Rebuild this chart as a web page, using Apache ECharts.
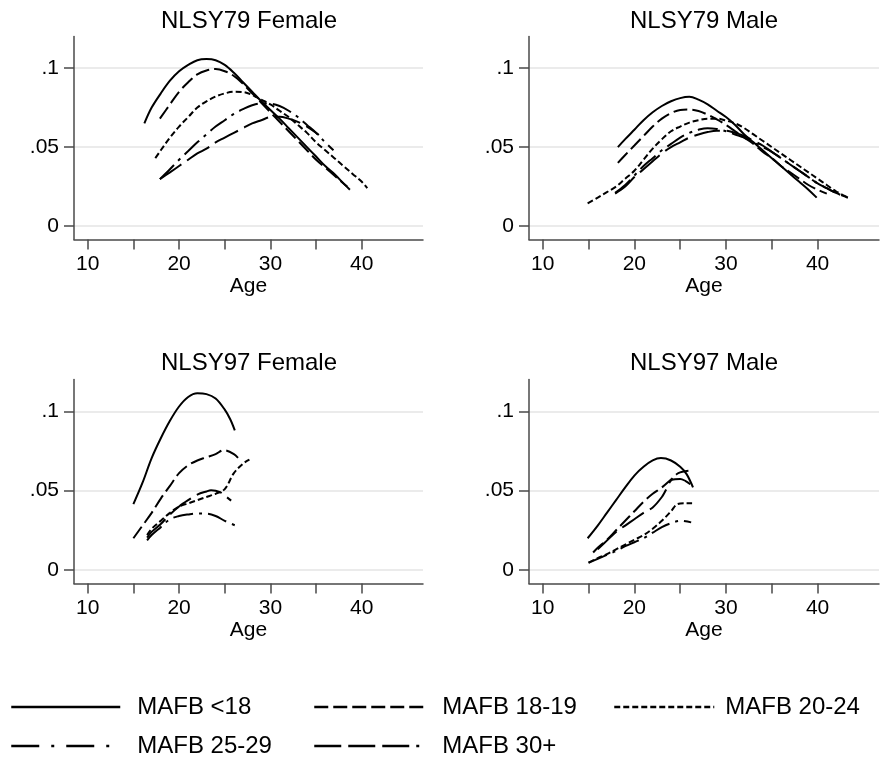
<!DOCTYPE html>
<html><head><meta charset="utf-8">
<script src="https://cdn.jsdelivr.net/npm/echarts@6/dist/echarts.min.js"></script>
<style>html,body{margin:0;padding:0;background:#fff}#c{width:881px;height:761px}</style>
</head><body><div id="c"></div><script>
const panelTitles = ['NLSY79 Female', 'NLSY79 Male', 'NLSY97 Female', 'NLSY97 Male'];
const groups = ['MAFB <18', 'MAFB 18-19', 'MAFB 20-24', 'MAFB 25-29', 'MAFB 30+'];
const xTicks = [10, 15, 20, 25, 30, 35, 40];
const xLabels = [10, 20, 30, 40];
const yTicks = [0, 0.05, 0.1];

// NLSY79 Female
const f79_lt18 = [[16.2,.065],[17,.075],[18,.084],[19,.092],[20,.098],[21,.102],[22,.105],[23,.1057],[24,.105],[25,.102],[26,.097],[27,.091],[28,.085],[29,.079],[30,.0735],[31,.068],[32,.062],[33,.056],[34,.050],[35,.044],[36,.038],[37,.033],[38,.027],[38.7,.023]];
const f79_1819 = [[17.9,.068],[19,.077],[20,.085],[21,.091],[22,.096],[23,.0985],[24,.0994],[25,.098],[26,.095],[27,.090],[28,.084],[29,.078],[30,.072],[31,.066],[32,.060],[33,.054],[34,.048],[35,.042],[36,.037],[37,.032],[38,.027],[38.4,.025]];
const f79_2024 = [[17.4,.043],[18,.048],[19,.056],[20,.063],[21,.069],[22,.075],[23,.079],[24,.082],[25,.084],[26,.085],[27,.0848],[28,.083],[29,.080],[30,.077],[31,.073],[32,.069],[33,.064],[34,.059],[35,.053],[36,.048],[37,.043],[38,.038],[39,.033],[40,.028],[40.6,.024]];
const f79_2529 = [[17.9,.0297],[19,.036],[20,.042],[21,.0475],[22,.053],[23,.058],[24,.063],[25,.067],[26,.071],[27,.074],[28,.0765],[29,.0777],[30,.0775],[31,.076],[32,.073],[33,.069],[34,.064],[35,.059],[36,.053],[36.9,.048]];
const f79_30 = [[17.9,.0297],[19,.034],[20,.038],[21,.042],[22,.046],[23,.049],[24,.053],[25,.056],[26,.059],[27,.062],[28,.065],[29,.067],[30,.069],[31,.0692],[32,.068],[33,.066],[34,.063],[35,.059],[35.3,.0576]];

// NLSY79 Male
const m79_lt18 = [[18.2,.050],[19,.055],[20,.061],[21,.067],[22,.072],[23,.076],[24,.079],[25,.081],[26,.0818],[27,.080],[28,.077],[29,.073],[30,.069],[31,.064],[32,.058],[33,.053],[34,.048],[35,.043],[36,.038],[37,.033],[38,.028],[39,.023],[39.9,.018]];
const m79_1819 = [[18.2,.040],[19,.045],[20,.051],[21,.057],[22,.063],[23,.068],[24,.0715],[25,.0735],[26,.0738],[27,.0728],[28,.0705],[29,.0675],[30,.064],[31,.060],[32,.056],[33,.052],[34,.047],[35,.043],[36,.038],[37,.034],[38,.030],[39,.026],[40,.023],[41,.0205]];
const m79_2024 = [[14.9,.0143],[16,.018],[17,.0215],[18,.025],[19,.030],[20,.035],[21,.042],[22,.049],[23,.055],[24,.060],[25,.063],[26,.0655],[27,.067],[28,.068],[29,.068],[30,.0668],[31,.065],[32,.062],[33,.058],[34,.054],[35,.050],[36,.046],[37,.042],[38,.038],[39,.034],[40,.030],[41,.026],[42,.022],[43,.019],[43.4,.0175]];
const m79_2529 = [[17.9,.021],[19,.026],[20,.032],[21,.038],[22,.043],[23,.048],[24,.052],[25,.056],[26,.059],[27,.061],[28,.062],[29,.0615],[30,.060],[31,.058],[32,.056],[33,.053],[34,.050],[35,.047],[36,.043],[37,.039],[38,.035],[39,.031],[40,.027],[41,.024],[42,.021],[43.3,.018]];
const m79_30 = [[17.9,.0205],[19,.025],[20,.031],[21,.036],[22,.041],[23,.046],[24,.050],[25,.053],[26,.056],[27,.058],[28,.0595],[29,.0603],[30,.0603],[31,.059],[32,.057],[33,.054],[34,.051],[35,.047],[36,.043],[37,.039],[38,.035],[39,.031],[40,.027],[41,.024],[42,.021],[43.3,.018]];

// NLSY97 Female
const f97_lt18 = [[15,.0415],[16,.055],[17,.0705],[18,.083],[19,.094],[20,.103],[21,.109],[22,.1113],[23,.1108],[24,.108],[25,.101],[25.6,.095],[26.1,.088]];
const f97_1819 = [[15,.020],[16,.028],[17,.036],[18,.045],[19,.053],[20,.061],[21,.066],[22,.069],[23,.071],[24,.073],[24.9,.0755],[26,.073],[26.7,.069]];
const f97_2024 = [[16.5,.022],[17,.026],[18,.031],[19,.036],[20,.040],[21,.042],[22,.044],[23,.046],[24,.048],[25,.051],[26,.061],[27,.067],[27.7,.0695]];
const f97_2529 = [[16.5,.0187],[17,.022],[18,.027],[19,.032],[20,.034],[21,.035],[22,.0356],[23,.0355],[24,.034],[25,.031],[26.1,.0282]];
const f97_30 = [[16.5,.0204],[17,.024],[18,.029],[19,.035],[20,.040],[21,.044],[22,.0475],[23,.0495],[23.5,.0502],[24.5,.049],[25.2,.046],[25.7,.0437]];

// NLSY97 Male
const m97_lt18 = [[14.9,.020],[16,.028],[17,.036],[18,.044],[19,.052],[20,.0595],[21,.065],[22,.069],[22.9,.0705],[24,.069],[25,.065],[25.7,.0604],[26.4,.052]];
const m97_1819 = [[15.5,.011],[16,.014],[17,.019],[18,.025],[19,.031],[20,.037],[21,.043],[22,.048],[23,.052],[24,.057],[24.8,.061],[25.9,.0625]];
const m97_2024 = [[15,.0046],[16,.0075],[17,.010],[18,.013],[19,.016],[20,.019],[21,.022],[22,.026],[23,.031],[24,.037],[24.7,.0415],[25.5,.042],[26.3,.042]];
const m97_2529 = [[15,.0046],[16,.007],[17,.0095],[18,.012],[19,.015],[20,.0175],[21,.020],[22,.0235],[23,.027],[24,.0295],[25,.031],[26.2,.030]];
const m97_30 = [[16,.013],[17,.0185],[18,.024],[19,.028],[20,.032],[21,.036],[22,.0394],[23,.046],[23.5,.051],[24.1,.0568],[25,.0574],[25.6,.056],[26.1,.054]];

const panelData = [
  [f79_lt18, f79_1819, f79_2024, f79_2529, f79_30],
  [m79_lt18, m79_1819, m79_2024, m79_2529, m79_30],
  [f97_lt18, f97_1819, f97_2024, f97_2529, f97_30],
  [m97_lt18, m97_1819, m97_2024, m97_2529, m97_30]
];

const FONT = '"Liberation Sans", Arial, Helvetica, sans-serif';
const dashTypes = ['solid', [14, 5], [6, 3], [20, 6, 3, 6], [26, 7]];
const legendDash = ['solid', [14, 5], [6, 3], [28, 12, 3, 12], [27, 7]];
const axisColor = '#4a4a4a';

const grids = [
  {left: 74, top: 36.5, width: 349, height: 203},
  {left: 529, top: 36.5, width: 350, height: 203},
  {left: 74, top: 379.5, width: 349, height: 204},
  {left: 529, top: 379.5, width: 350, height: 204}
];

const xAxes = grids.map((g, i) => ({
  gridIndex: i, type: 'value', min: 8.5, max: 46.7,
  name: 'Age', nameLocation: 'middle', nameGap: 34,
  nameTextStyle: {fontSize: 21, color: '#000', fontFamily: FONT},
  axisLine: {show: true, onZero: false, lineStyle: {color: axisColor, width: 1.5}},
  axisTick: {show: true, customValues: xTicks, length: 10, lineStyle: {color: axisColor, width: 1.5}},
  axisLabel: {customValues: xLabels, fontSize: 21, color: '#000', fontFamily: FONT, margin: 14},
  splitLine: {show: false}
}));

const yAxes = grids.map((g, i) => ({
  gridIndex: i, type: 'value', min: -0.0085, max: 0.12,
  axisLine: {show: true, onZero: false, lineStyle: {color: axisColor, width: 1.5}},
  axisTick: {show: true, customValues: yTicks, length: 10, lineStyle: {color: axisColor, width: 1.5}},
  axisLabel: {customValues: yTicks, fontSize: 21, color: '#000', fontFamily: FONT, margin: 15,
    formatter: v => v === 0 ? '0' : String(+v.toFixed(3)).replace(/^0/, '')},
  splitLine: {show: true, lineStyle: {color: '#e4e4e4', width: 1.5}}
}));

const series = [];
panelData.forEach((arrs, i) => {
  arrs.forEach((d, g) => {
    series.push({
      type: 'line', name: groups[g], xAxisIndex: i, yAxisIndex: i,
      data: d, smooth: 0.35, symbol: 'none', showSymbol: false, silent: true,
      lineStyle: {color: '#000', width: 2, type: dashTypes[g]},
      itemStyle: {color: '#000'}
    });
  });
});

const legendPos = [
  {left: 5, top: 690, w: 109, pad: 12},
  {left: 308, top: 690, w: 109, pad: 14},
  {left: 608, top: 690, w: 100, pad: 6},
  {left: 5, top: 729, w: 109, pad: 12},
  {left: 308, top: 729, w: 105, pad: 18}
];
const legends = groups.map((name, k) => ({
  data: [name], left: legendPos[k].left, top: legendPos[k].top,
  itemWidth: legendPos[k].w, itemHeight: 14, selectedMode: false,
  itemStyle: {opacity: 0, color: 'transparent', borderColor: 'transparent', borderWidth: 0},
  lineStyle: {width: 2.5, type: legendDash[k], color: '#000'},
  textStyle: {fontSize: 24, color: '#000', fontFamily: FONT, padding: [0, 0, 0, legendPos[k].pad]}
}));

const titleCenters = [[249, 21], [704, 21], [249, 363], [704, 363]];
const graphics = panelTitles.map((t, i) => ({
  type: 'text', x: titleCenters[i][0], y: titleCenters[i][1],
  style: {text: t, fill: '#000', font: '24px ' + FONT, textAlign: 'center', textVerticalAlign: 'middle'}
}));

const chart = echarts.init(document.getElementById('c'), null, {renderer: 'canvas'});
chart.setOption({
  animation: false,
  backgroundColor: '#fff',
  grid: grids,
  xAxis: xAxes,
  yAxis: yAxes,
  legend: legends,
  graphic: graphics,
  series: series
});
</script></body></html>
